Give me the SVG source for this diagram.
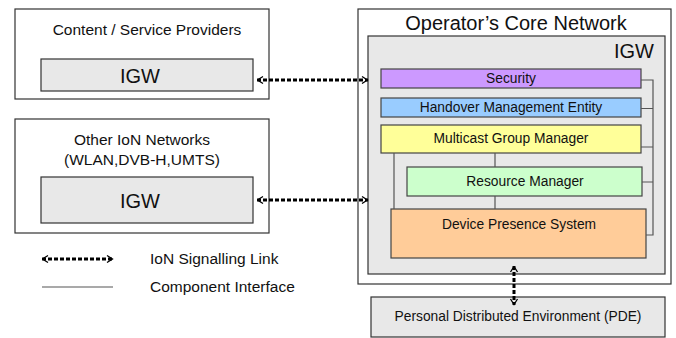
<svg xmlns="http://www.w3.org/2000/svg" width="676" height="338" viewBox="0 0 676 338">
<style>
text{font-family:"Liberation Sans",Arial,sans-serif;fill:#111}
.box{fill:#fff;stroke:#333;stroke-width:1.2}
.gray{fill:#e8e8e8;stroke:#333;stroke-width:1.2}
.comp{stroke:#444;stroke-width:1.2}
.ci{fill:none;stroke:#555;stroke-width:1.2}
.sig{fill:none;stroke:#000;stroke-width:3;stroke-dasharray:4 2}
.t13{font-size:13.8px}
.t14{font-size:15.5px}
.t18{font-size:20px}
</style>
<defs>
<marker id="ah" viewBox="0 0 8 10" refX="7.5" refY="5" markerWidth="8" markerHeight="10" markerUnits="userSpaceOnUse" orient="auto-start-reverse">
<path d="M1.5,1.5 L7,5 L1.5,8.5" fill="none" stroke="#000" stroke-width="1.3"/>
</marker>
</defs>
<g id="content-providers">
<rect class="box" x="15" y="9" width="254" height="90"/>
<text class="t14" x="147" y="35" text-anchor="middle">Content  / Service Providers</text>
<rect class="gray" x="41" y="59" width="212" height="32"/>
<text class="t18" x="140" y="83" text-anchor="middle">IGW</text>
</g>
<g id="other-ion">
<rect class="box" x="15" y="119" width="254" height="114"/>
<text class="t14" x="142" y="145" text-anchor="middle">Other IoN Networks</text>
<text class="t14" x="142" y="165" text-anchor="middle">(WLAN,DVB-H,UMTS)</text>
<rect class="gray" x="41" y="177" width="212" height="46"/>
<text class="t18" x="140" y="208" text-anchor="middle">IGW</text>
</g>
<g id="core-network">
<rect class="box" x="358" y="9" width="313" height="275"/>
<text class="t18" x="516" y="30" text-anchor="middle">Operator’s Core Network</text>
<rect class="gray" x="368" y="36" width="297" height="238"/>
<text class="t18" x="654" y="58" text-anchor="end">IGW</text>
</g>
<g id="security">
<rect class="comp" fill="#cc99ff" x="381" y="69" width="260" height="19"/>
<text class="t13" x="511" y="83" text-anchor="middle">Security</text>
</g>
<g id="handover">
<rect class="comp" fill="#99ccff" x="381" y="98" width="260" height="19"/>
<text class="t13" x="511" y="112" text-anchor="middle">Handover Management Entity</text>
</g>
<g id="multicast">
<rect class="comp" fill="#ffff99" x="381" y="125" width="260" height="28"/>
<text class="t13" x="511" y="143" text-anchor="middle">Multicast Group Manager</text>
</g>
<g id="resource-manager">
<rect class="comp" fill="#ccffcc" x="407" y="167" width="235" height="29"/>
<text class="t13" x="525" y="186" text-anchor="middle">Resource Manager</text>
</g>
<g id="device-presence">
<rect class="comp" fill="#ffcc99" x="391" y="209" width="255" height="49"/>
<text class="t13" x="519" y="229" text-anchor="middle">Device Presence System</text>
</g>
<g id="pde">
<rect class="gray" x="371" y="297" width="294" height="40"/>
<text class="t13" x="518" y="321" text-anchor="middle">Personal Distributed Environment (PDE)</text>
</g>
<g id="connectors">
<path class="ci" d="M641,80 H653 V235 H646 M641,108.5 H653 M641,147 H653 M642,182 H653 M394,153 V209 M495,153 V167 M495,196 V209"/>
<line class="sig" x1="257" y1="80" x2="368" y2="80" marker-start="url(#ah)" marker-end="url(#ah)"/>
<line class="sig" x1="257" y1="200" x2="368" y2="200" marker-start="url(#ah)" marker-end="url(#ah)"/>
<line class="sig" x1="514" y1="266" x2="514" y2="305" marker-start="url(#ah)" marker-end="url(#ah)"/>
</g>
<g id="legend">
<line class="sig" x1="42" y1="259" x2="113" y2="259" marker-start="url(#ah)" marker-end="url(#ah)"/>
<text class="t14" x="150" y="264">IoN Signalling Link</text>
<line class="ci" x1="42" y1="287" x2="113" y2="287"/>
<text class="t14" x="150" y="292">Component Interface</text>
</g>
</svg>
